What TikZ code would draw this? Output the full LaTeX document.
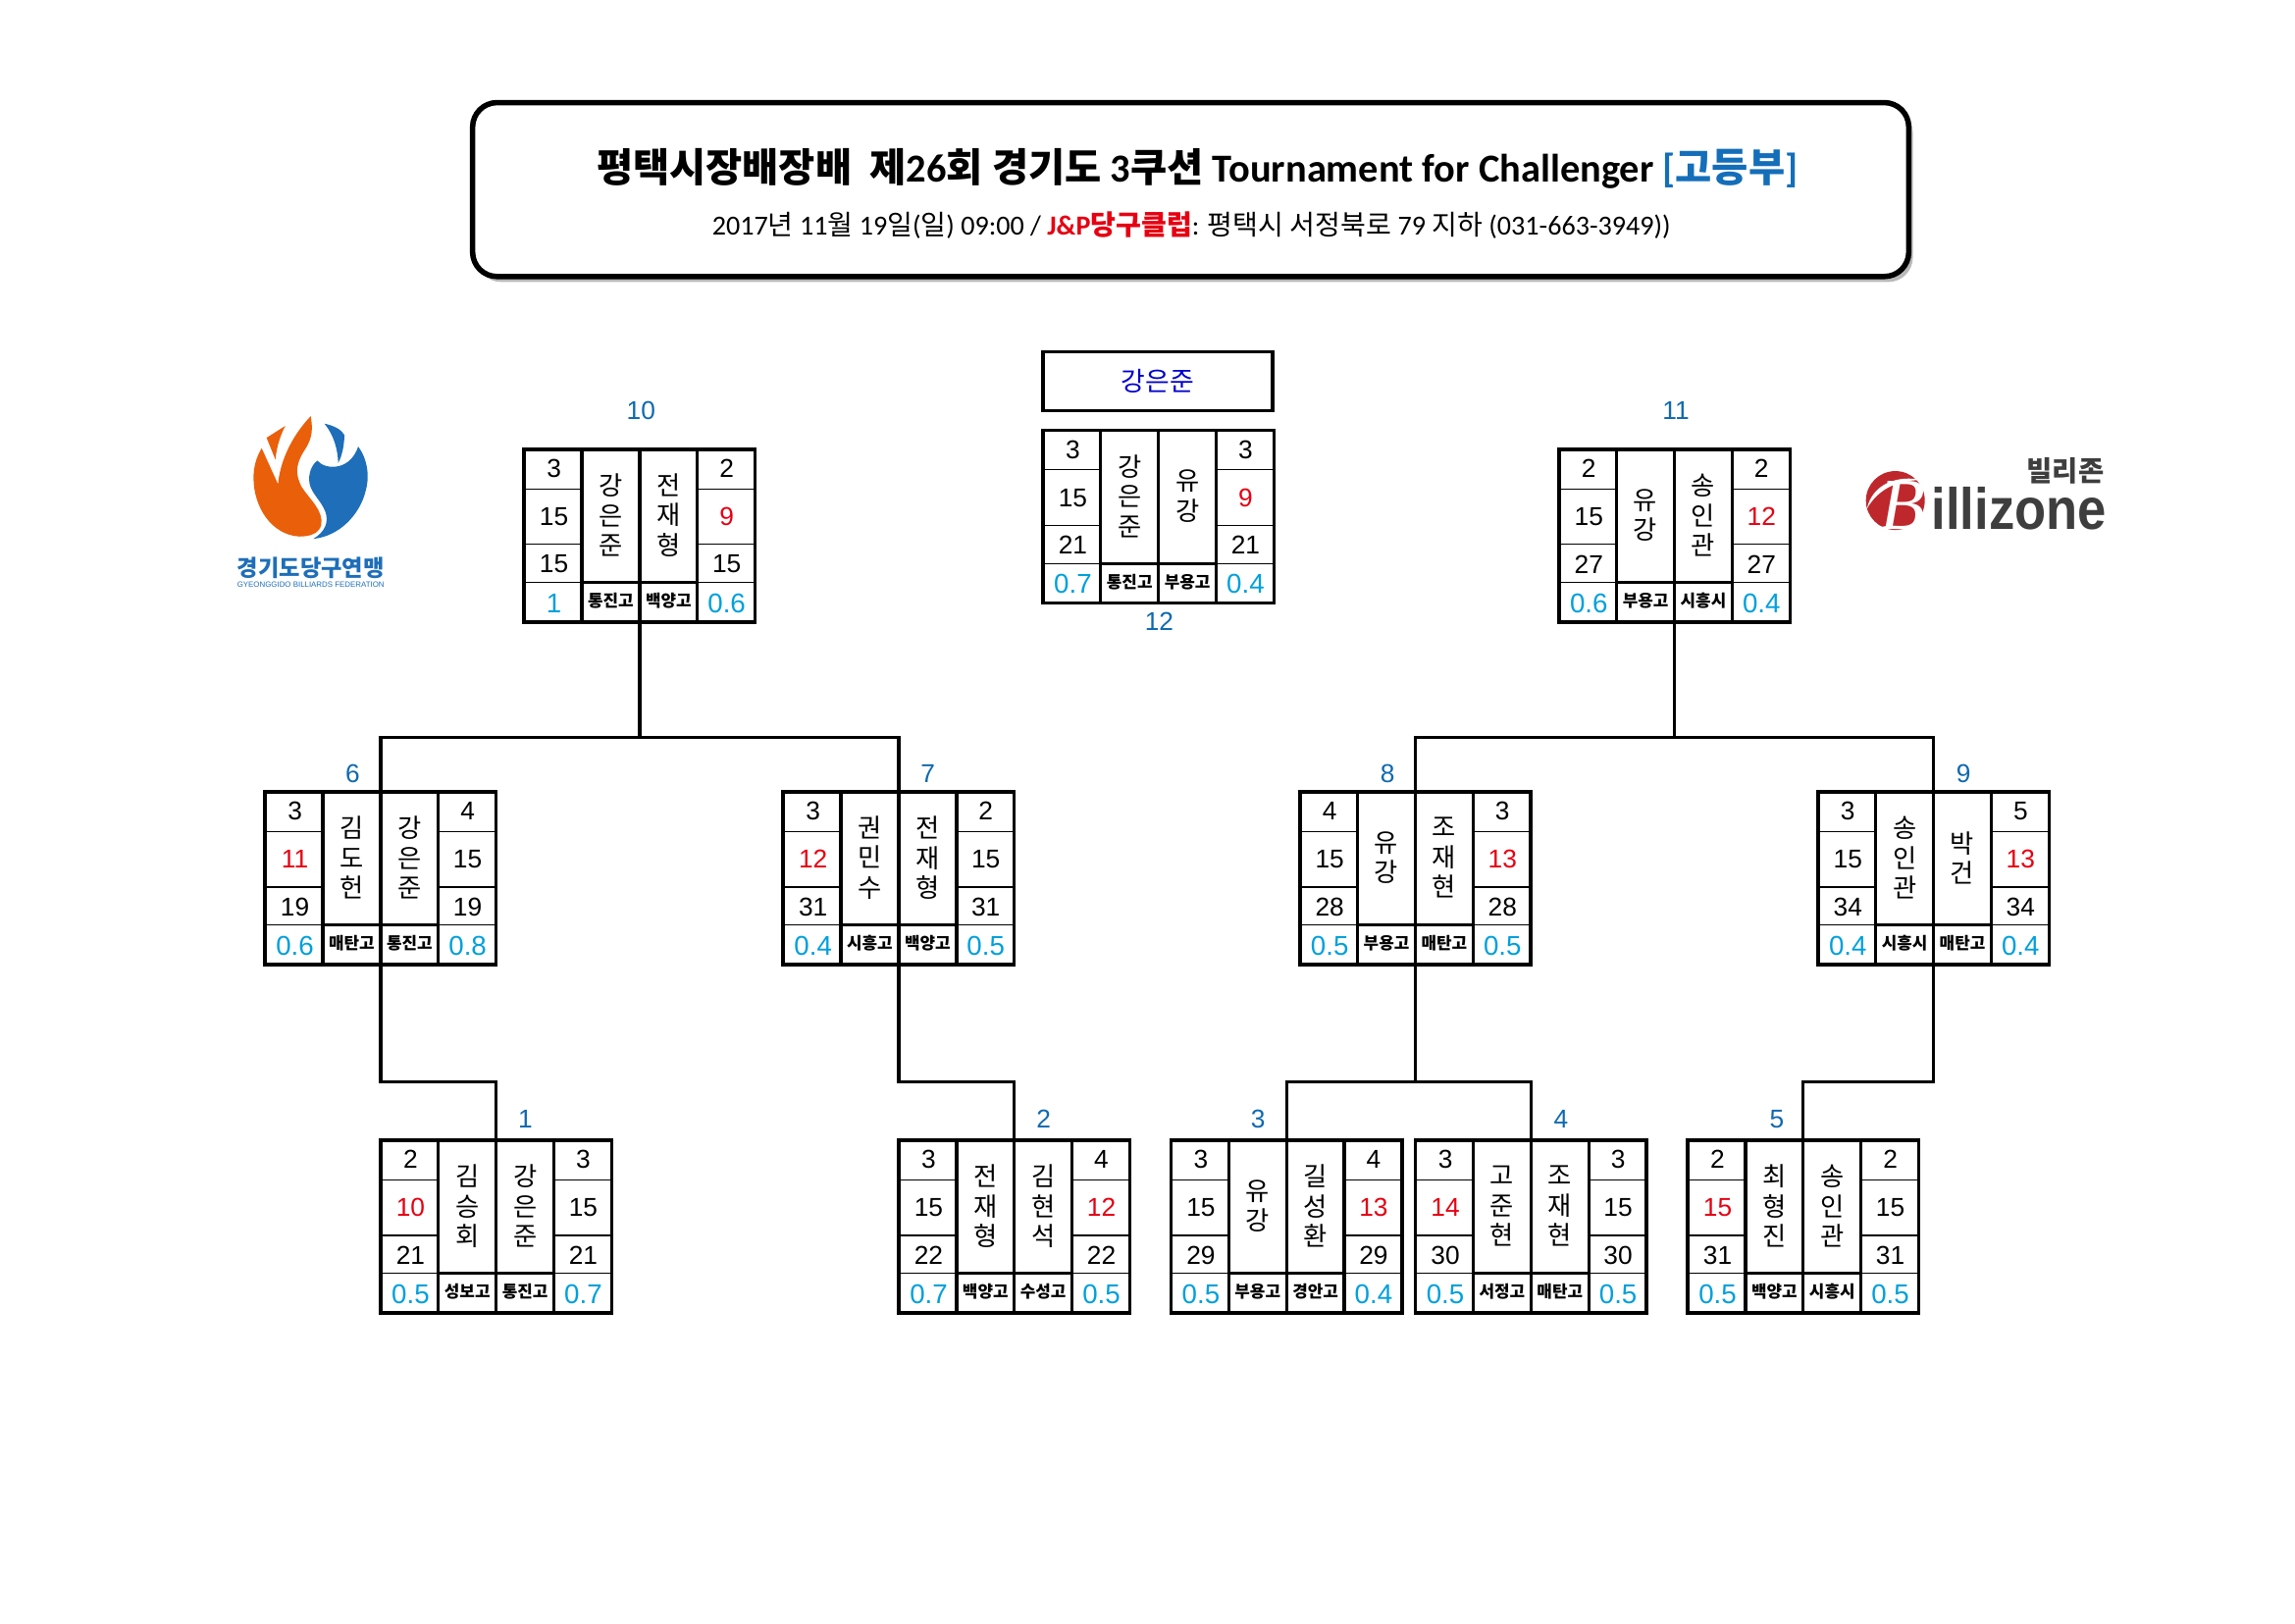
\documentclass[tikz,border=0pt]{standalone}
\usepackage{fontspec}
\usepackage{xcolor}
\usetikzlibrary{shadows}
\setmainfont{Liberation Sans}
\newfontfamily\krfont{Noto Sans CJK KR}
\newfontfamily\cafont{Carlito}
\definecolor{lost}{RGB}{230,0,18}
\definecolor{avgc}{RGB}{0,160,220}
\definecolor{matchc}{RGB}{15,105,175}
\definecolor{winc}{RGB}{0,0,205}
\definecolor{titlec}{RGB}{20,110,185}
\definecolor{fedor}{RGB}{234,95,10}
\definecolor{fedbl}{RGB}{30,110,185}
\definecolor{bzred}{RGB}{190,40,45}
\definecolor{bzgr}{RGB}{62,62,62}
\newcommand{\lose}[1]{\textcolor{lost}{#1}}
\newcommand{\kr}[1]{{\krfont #1}}
\tikzset{
  card/.style={draw,line width=1.3pt,minimum width=2.99cm,minimum height=2.235cm,inner sep=0pt},
  num/.style={font=\fontsize{9.5}{11}\selectfont,inner sep=0pt},
  avg/.style={font=\fontsize{10}{11}\selectfont,text=avgc,inner sep=0pt},
  nam/.style={font=\krfont\fontsize{9.5}{11}\selectfont,align=center,inner sep=0pt},
  clb/.style={font=\krfont\bfseries\fontsize{6.1}{7}\selectfont,inner sep=0pt},
  lbl/.style={font=\fontsize{9.5}{11}\selectfont,text=matchc,inner sep=0pt},
  wire/.style={line width=1.2pt},
  thinl/.style={line width=0.4pt},
  midl/.style={line width=1.2pt},
}
\begin{document}
\begin{tikzpicture}[x=0.01894cm,y=-0.01894cm]
\useasboundingbox (0,0) rectangle (1568,1108.8);
% heading
\node[draw,line width=2pt,rounded corners=9pt,fill=white,minimum width=18.58cm,minimum height=2.25cm,
  drop shadow={shadow xshift=1.5pt,shadow yshift=-2pt,fill=black!50,opacity=.55}] (frame) at (813.5,129.5) {};
\node[font=\cafont\bfseries\fontsize{14.6}{17}\selectfont,inner sep=0pt] (title) at (818,115)
  {\kr{평택시장배장배}\ \ \kr{제}26\kr{회 경기도} 3\kr{쿠션} Tournament for Challenger \textcolor{titlec}{[\kr{고등부}]}};
\node[font=\cafont\fontsize{10.15}{12}\selectfont,inner sep=0pt] (sub) at (814,154)
  {2017\kr{년} 11\kr{월} 19\kr{일}(\kr{일}) 09:00 / \textcolor{lost}{\bfseries J\&P\kr{당구클럽}}: \kr{평택시 서정북로} 79 \kr{지하} (031-663-3949))};
% winner
\node[draw,line width=1.3pt,minimum width=2.97cm,minimum height=0.76cm,inner sep=0pt,
  font=\krfont\fontsize{9.7}{11}\selectfont,text=winc] (winner) at (791,260.5) {강은준};
% number / left corner / inning, score, total, average, name, club per side
\foreach \no/\x/\y/\li/\ls/\tot/\la/\ln/\lc/\ri/\rs/\ra/\rn/\rc in {
  10/358/307/3/15/15/1/강\\은\\준/통진고/2/\lose{9}/0.6/전\\재\\형/백양고,
  12/712.5/294/3/15/21/0.7/강\\은\\준/통진고/3/\lose{9}/0.4/유\\강/부용고,
  11/1065/307/2/15/27/0.6/유\\강/부용고/2/\lose{12}/0.4/송\\인\\관/시흥시,
  6/181/541/3/\lose{11}/19/0.6/김\\도\\헌/매탄고/4/15/0.8/강\\은\\준/통진고,
  7/535/541/3/\lose{12}/31/0.4/권\\민\\수/시흥고/2/15/0.5/전\\재\\형/백양고,
  8/888/541/4/15/28/0.5/유\\강/부용고/3/\lose{13}/0.5/조\\재\\현/매탄고,
  9/1242/541/3/15/34/0.4/송\\인\\관/시흥시/5/\lose{13}/0.4/박\\건/매탄고,
  1/260/779/2/\lose{10}/21/0.5/김\\승\\회/성보고/3/15/0.7/강\\은\\준/통진고,
  2/614/779/3/15/22/0.7/전\\재\\형/백양고/4/\lose{12}/0.5/김\\현\\석/수성고,
  3/800/779/3/15/29/0.5/유\\강/부용고/4/\lose{13}/0.4/길\\성\\환/경안고,
  4/967/779/3/\lose{14}/30/0.5/고\\준\\현/서정고/3/15/0.5/조\\재\\현/매탄고,
  5/1153/779/2/\lose{15}/31/0.5/최\\형\\진/백양고/2/15/0.5/송\\인\\관/시흥시}
{
\begin{scope}[shift={(\x,\y)}]
  \node[card] (box\no) at (79,59) {};
  \foreach \c in {39.5,79,118.5} \draw[midl] (\c,0) -- (\c,118);
  \draw[midl] (39.5,91) -- (118.5,91);
  \foreach \r in {27,65,91} {
    \draw[thinl] (0,\r) -- (39.5,\r);
    \draw[thinl] (118.5,\r) -- (158,\r);
  }
  \node[num] (li\no) at (20.5,13) {\li};
  \node[num] (ls\no) at (20.5,46) {\ls};
  \node[num] (lt\no) at (20.5,78.5) {\tot};
  \node[avg] (la\no) at (20.5,105) {\la};
  \node[nam] (ln\no) at (59.25,45) {\ln};
  \node[clb] (lc\no) at (59.25,103.5) {\lc};
  \node[nam] (rn\no) at (98.75,45) {\rn};
  \node[clb] (rc\no) at (98.75,103.5) {\rc};
  \node[num] (ri\no) at (138.5,13) {\ri};
  \node[num] (rs\no) at (138.5,46) {\rs};
  \node[num] (rt\no) at (138.5,78.5) {\tot};
  \node[avg] (ra\no) at (138.5,105) {\ra};
\end{scope}
}
% match numbers
\node[lbl] (n10) at (438,280.5) {10};
\node[lbl] (n11) at (1145,280.5) {11};
\node[lbl] (n12) at (792,424.5) {12};
\node[lbl] (n6) at (241,528.5) {6};
\node[lbl] (n7) at (634,528.5) {7};
\node[lbl] (n8) at (948,528.5) {8};
\node[lbl] (n9) at (1341.5,528.5) {9};
\node[lbl] (n1) at (359,764.5) {1};
\node[lbl] (n2) at (713,764.5) {2};
\node[lbl] (n3) at (859.5,764.5) {3};
\node[lbl] (n4) at (1066.5,764.5) {4};
\node[lbl] (n5) at (1214,764.5) {5};
% bracket
\coordinate (j10) at (437,504);
\coordinate (j11) at (1144,504);
\coordinate (j6) at (260,739);
\coordinate (j7) at (614,739);
\coordinate (j8) at (967,739);
\coordinate (j9) at (1321,739);
\draw[wire] (box10.south) -- (j10);
\draw[wire] (box11.south) -- (j11);
\draw[wire] (box6.north) |- (j10) -| (box7.north);
\draw[wire] (box8.north) |- (j11) -| (box9.north);
\draw[wire] (box6.south) -- (j6) -| (box1.north);
\draw[wire] (box7.south) -- (j7) -| (box2.north);
\draw[wire] (box8.south) -- (j8);
\draw[wire] (box3.north) |- (j8) -| (box4.north);
\draw[wire] (box9.south) -- (j9) -| (box5.north);
% federation logo
\begin{scope}[shift={(147.5,274.9)},scale=0.2235]
  \fill[fedor] (290,42) .. controls (296,80) and (296,105) .. (275,140)
    .. controls (245,185) and (240,215) .. (262,258)
    .. controls (285,295) and (330,330) .. (322,375)
    .. controls (315,400) and (290,410) .. (255,410)
    .. controls (170,405) and (115,320) .. (115,230)
    .. controls (115,195) and (125,165) .. (140,140)
    -- (190,250) .. controls (195,190) and (225,110) .. (290,42) -- cycle;
  \fill[fedor] (212,72) -- (155,108) -- (182,175) .. controls (185,140) and (195,105) .. (212,72) -- cycle;
  \fill[fedbl] (435,135) .. controls (465,175) and (470,230) .. (458,270)
    .. controls (440,345) and (375,410) .. (298,417)
    .. controls (335,395) and (345,365) .. (335,335)
    .. controls (320,295) and (285,275) .. (285,235)
    .. controls (285,205) and (300,185) .. (310,178)
    .. controls (325,195) and (350,200) .. (375,195)
    .. controls (405,188) and (425,165) .. (435,135) -- cycle;
  \fill[fedbl] (332,65) .. controls (365,72) and (385,85) .. (393,100)
    .. controls (392,135) and (385,165) .. (374,185)
    .. controls (372,140) and (360,100) .. (332,65) -- cycle;
  \node[font=\krfont\bfseries\fontsize{8.4}{10}\selectfont,text=fedbl,inner sep=0pt] (fedname) at (290,507) {경기도당구연맹};
  \node[font=\fontsize{2.85}{4}\selectfont,text=fedbl,inner sep=0pt] (fedsub) at (290,558) {GYEONGGIDO BILLIARDS FEDERATION};
\end{scope}
% sponsor logo
\begin{scope}[shift={(1260.3,301.7)},scale=0.2235]
  \fill[bzred] (155,180) circle (90);
  \node[font=\fontspec{Liberation Serif}\itshape\fontsize{27}{30}\selectfont,text=white,inner sep=0pt] (bzb) at (178,195) {B};
  \fill[white] (68,205) .. controls (85,130) and (160,100) .. (240,118)
    .. controls (170,115) and (105,140) .. (68,205) -- cycle;
  \node[font=\bfseries\fontsize{21.5}{24}\selectfont,text=bzgr,inner sep=0pt,transform shape,xscale=3.95,yscale=4.47] (bzname) at (533,205) {illizone};
  \node[font=\krfont\bfseries\fontsize{10.3}{12}\selectfont,text=bzgr,inner sep=0pt] (bzkr) at (675,90) {빌리존};
\end{scope}
\end{tikzpicture}
\end{document}
